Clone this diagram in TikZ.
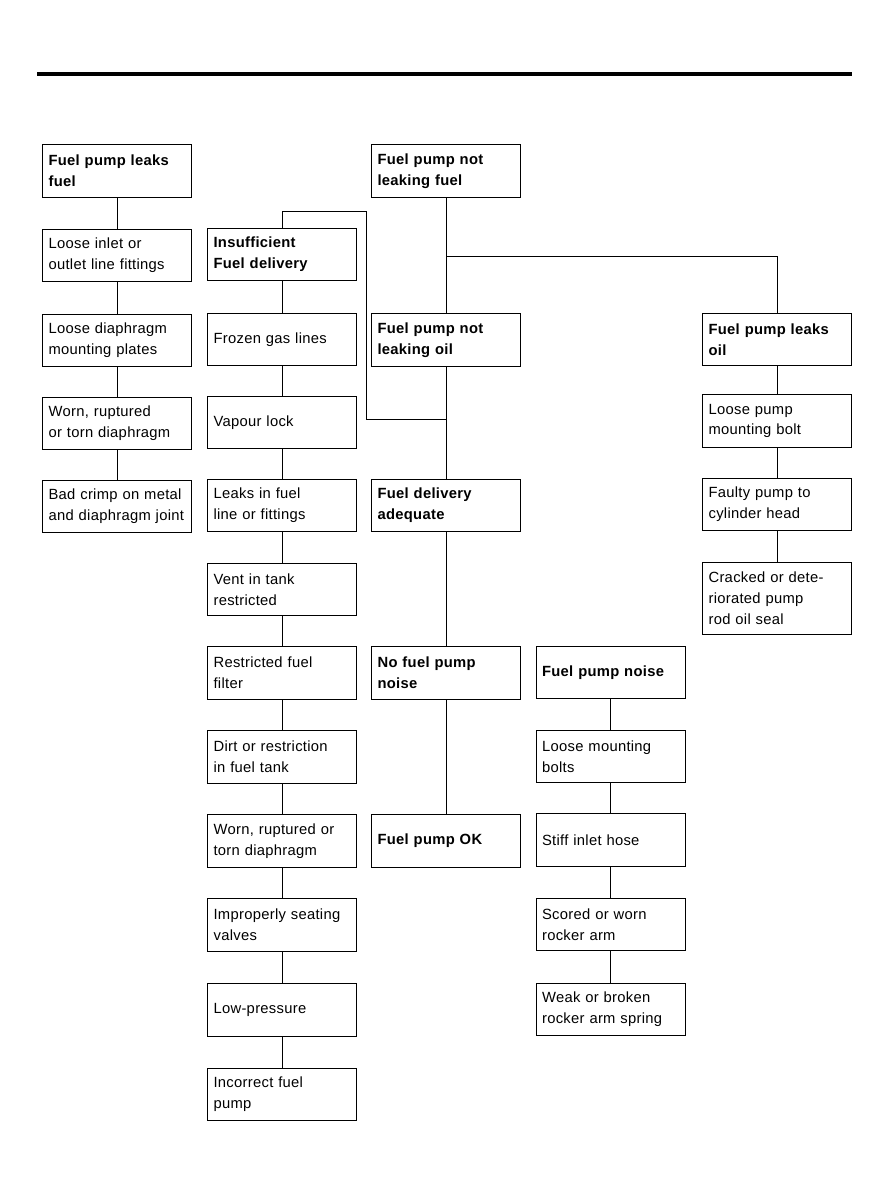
\documentclass[tikz,border=0pt]{standalone}
\usepackage{fontspec}
\setmainfont{Liberation Sans}[WordSpace=1.9, LetterSpace=2]
\usepackage{tikz}
\usetikzlibrary{positioning}

\begin{document}
\begin{tikzpicture}[
    x=0.025cm, y=-0.025cm,
    box/.style={draw, line width=0.6pt, align=left, text width=3.42cm, inner xsep=0.15cm,
        minimum height=1.32cm, font=\fontsize{10.5}{14.8}\selectfont},
    head/.style={box, font=\fontsize{10.5}{14.8}\selectfont\bfseries},
    link/.style={line width=0.6pt}
]
\useasboundingbox (0,0) rectangle (890,1200);
\draw[line width=2.9pt] (37,74) -- (852,74);

\node[head] (leakfuel) at (117,171) {Fuel pump leaks\\fuel};
\node[box] (inlet) at (117,255.5) {Loose inlet or\\outlet line fittings};
\node[box] (plates) at (117,340.5) {Loose diaphragm\\mounting plates};
\node[box] (diaph1) at (117,423.5) {Worn, ruptured\\or torn diaphragm};
\node[box] (crimp) at (117,506.5) {Bad crimp on metal\\and diaphragm joint};

\node[head] (insuff) at (282,254.5) {Insufficient\\Fuel delivery};
\node[box] (frozen) at (282,339.5) {Frozen gas lines};
\node[box] (vapour) at (282,422.5) {Vapour lock};
\node[box] (lineleak) at (282,505.5) {Leaks in fuel\\line or fittings};
\node[box] (vent) at (282,589.5) {Vent in tank\\restricted};
\node[box] (filter) at (282,673) {Restricted fuel\\filter};
\node[box] (dirt) at (282,757) {Dirt or restriction\\in fuel tank};
\node[box] (diaph2) at (282,841) {Worn, ruptured or\\torn diaphragm};
\node[box] (valves) at (282,925) {Improperly seating\\valves};
\node[box] (lowp) at (282,1010) {Low-pressure};
\node[box] (wrong) at (282,1094.5) {Incorrect fuel\\pump};

\node[head] (notfuel) at (446,171) {Fuel pump not\\leaking fuel};
\node[head] (notoil) at (446,340) {Fuel pump not\\leaking oil};
\node[head] (adequate) at (446,505.5) {Fuel delivery\\adequate};
\node[head] (nonoise) at (446,673) {No fuel pump\\noise};
\node[head] (ok) at (446,841) {Fuel pump OK};

\node[head] (noise) at (610.5,672.5) {Fuel pump noise};
\node[box] (bolts) at (610.5,756.5) {Loose mounting\\bolts};
\node[box] (hose) at (610.5,840) {Stiff inlet hose};
\node[box] (rocker) at (610.5,924.5) {Scored or worn\\rocker arm};
\node[box] (spring) at (610.5,1009.5) {Weak or broken\\rocker arm spring};

\node[head] (leakoil) at (777,339.5) {Fuel pump leaks\\oil};
\node[box] (mount) at (777,421) {Loose pump\\mounting bolt};
\node[box] (head) at (777,504.5) {Faulty pump to\\cylinder head};
\node[box, minimum height=1.78cm] (seal) at (777,598.5) {Cracked or dete-\\riorated pump\\rod oil seal};

\coordinate (split) at (446,256);
\coordinate (loop) at (446,419);

\draw[link] (leakfuel) -- (inlet);
\draw[link] (inlet) -- (plates);
\draw[link] (plates) -- (diaph1);
\draw[link] (diaph1) -- (crimp);

\draw[link] (notfuel) -- (notoil);
\draw[link] (split) -| (leakoil);
\draw[link] (notoil) -- (adequate);
\draw[link] (loop) -- (366,419) -- (366,211) -| (insuff);
\draw[link] (adequate) -- (nonoise);
\draw[link] (nonoise) -- (ok);

\draw[link] (insuff) -- (frozen);
\draw[link] (frozen) -- (vapour);
\draw[link] (vapour) -- (lineleak);
\draw[link] (lineleak) -- (vent);
\draw[link] (vent) -- (filter);
\draw[link] (filter) -- (dirt);
\draw[link] (dirt) -- (diaph2);
\draw[link] (diaph2) -- (valves);
\draw[link] (valves) -- (lowp);
\draw[link] (lowp) -- (wrong);

\draw[link] (noise) -- (bolts);
\draw[link] (bolts) -- (hose);
\draw[link] (hose) -- (rocker);
\draw[link] (rocker) -- (spring);

\draw[link] (leakoil) -- (mount);
\draw[link] (mount) -- (head);
\draw[link] (head) -- (seal);
\end{tikzpicture}
\end{document}
